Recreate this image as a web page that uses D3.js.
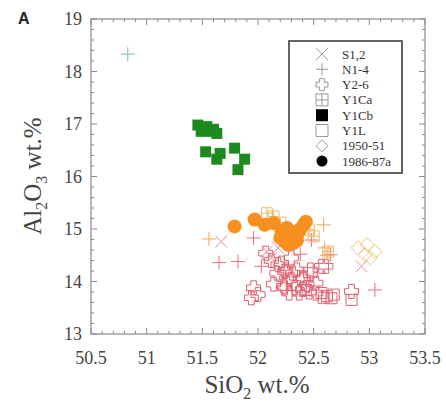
<!DOCTYPE html>
<html>
<head>
<meta charset="UTF-8">
<style>
  body { margin: 0; background: #fff; }
  svg text { font-family: "Liberation Serif", "Times New Roman", serif; }
</style>
</head>
<body>
<svg></svg>
<script src="https://cdn.jsdelivr.net/npm/d3@7"></script>
<script>
// SiO2 / Al2O3 pairs
let s12 = [[51.67, 14.76], [52.08, 14.57], [52.12, 14.45], [52.18, 14.64], [52.93, 14.29]];
let n14 = [[51.65, 14.36], [51.82, 14.38], [51.96, 14.83], [52.03, 14.29], [52.48, 14.79], [52.65, 14.51], [53.05, 13.84], [52.38, 14.52]];
let n14Orange = [[51.56, 14.81], [52.59, 15.08], [52.60, 14.64], [52.62, 14.50]];
let n14Teal = [[50.83, 18.33]];
let y26 = [[51.96, 13.88], [51.94, 13.69], [52.00, 13.75], [52.07, 14.54], [52.21, 14.35], [52.17, 14.16],
  [52.24, 14.19], [52.28, 14.03], [52.23, 13.91], [52.35, 14.22], [52.38, 14.07], [52.44, 13.94],
  [52.47, 14.22], [52.57, 14.29], [52.52, 13.78], [52.28, 13.78], [52.18, 14.32], [52.25, 14.22],
  [52.31, 14.16], [52.41, 14.07], [52.47, 14.13], [52.61, 14.29], [52.24, 13.88], [52.33, 13.88],
  [52.37, 13.78], [52.52, 13.97], [52.84, 13.81], [52.12, 14.40], [52.30, 14.45], [52.40, 13.85],
  [52.46, 13.80], [52.14, 13.95]];
let y1ca = [[52.08, 15.30], [52.14, 15.24], [52.20, 15.12], [52.46, 14.99], [52.50, 14.86], [52.63, 14.57]];
let y1cb = [[51.46, 16.98], [51.54, 16.95], [51.49, 16.86], [51.58, 16.86], [51.63, 16.82], [51.53, 16.47],
  [51.66, 16.44], [51.63, 16.33], [51.79, 16.54], [51.88, 16.33], [51.82, 16.13], [51.60, 16.90]];
let y1l = [[52.57, 13.78], [52.62, 13.72], [52.68, 13.75], [52.59, 13.69], [52.84, 13.65], [52.43, 13.84], [52.66, 13.68]];
let e1950 = [[52.90, 14.64], [52.98, 14.70], [53.05, 14.57], [52.96, 14.51], [53.01, 14.45]];
let e1986 = [[51.79, 15.05], [51.97, 15.18], [52.06, 15.08], [52.14, 15.11], [52.26, 15.02], [52.21, 14.95],
  [52.27, 14.86], [52.32, 14.73], [52.24, 14.76], [52.36, 14.92], [52.41, 15.08], [52.43, 15.14],
  [52.33, 14.83], [52.20, 14.83], [52.29, 14.95], [52.27, 14.70], [52.35, 14.78], [52.38, 15.00], [52.22, 14.88]];

let legendNames = ["S1,2", "N1-4", "Y2-6", "Y1Ca", "Y1Cb", "Y1L", "1950-51", "1986-87a"];
let legendSymbols = ["x", "plus", "fatplus", "sqplus", "square", "square", "diamond", "circle"];
let legendFilled = [false, false, false, false, true, false, false, true];

let width = 446, height = 402;
let svg = d3.select("svg").attr("width", width).attr("height", height);

let x = d3.scaleLinear().domain([50.5, 53.5]).range([91, 425]);
let y = d3.scaleLinear().domain([13, 19]).range([334, 19]);

// symbol shapes
function shape(kind, s) {
  if (kind == "x") return `M${-s},${-s}L${s},${s}M${-s},${s}L${s},${-s}`;
  if (kind == "plus") return `M${-s},0H${s}M0,${-s}V${s}`;
  if (kind == "square") return `M${-s},${-s}H${s}V${s}H${-s}Z`;
  if (kind == "sqplus") return `M${-s},${-s}H${s}V${s}H${-s}ZM${-s},0H${s}M0,${-s}V${s}`;
  if (kind == "diamond") return `M0,${-s}L${s},0L0,${s}L${-s},0Z`;
  if (kind == "fatplus") {
    let a = s * 0.4;
    return `M${-a},${-s}H${a}V${-a}H${s}V${a}H${a}V${s}H${-a}V${a}H${-s}V${-a}H${-a}Z`;
  }
  if (kind == "circle") return `M${s},0A${s},${s} 0 1,1 ${-s},0A${s},${s} 0 1,1 ${s},0Z`;
}

// frame and ticks
let frame = svg.append("g");
frame.append("rect").attr("x", 91).attr("y", 19).attr("width", 334).attr("height", 315)
  .attr("fill", "none").attr("stroke", "#8a8a8a").attr("stroke-width", 1.2);

let xMinor = d3.range(50.5, 53.51, 0.1);
let yMinor = d3.range(13, 19.01, 0.2);
xMinor.forEach((v, i) => {
  let len = i % 5 == 0 ? 6 : 3;
  frame.append("line").attr("x1", x(v)).attr("x2", x(v)).attr("y1", 334).attr("y2", 334 - len).attr("stroke", "#8a8a8a");
  frame.append("line").attr("x1", x(v)).attr("x2", x(v)).attr("y1", 19).attr("y2", 19 + len).attr("stroke", "#8a8a8a");
});
yMinor.forEach((v, i) => {
  let len = i % 5 == 0 ? 6 : 3;
  frame.append("line").attr("y1", y(v)).attr("y2", y(v)).attr("x1", 91).attr("x2", 91 + len).attr("stroke", "#8a8a8a");
  frame.append("line").attr("y1", y(v)).attr("y2", y(v)).attr("x1", 425).attr("x2", 425 - len).attr("stroke", "#8a8a8a");
});

svg.append("g").selectAll("text").data([50.5, 51, 51.5, 52, 52.5, 53, 53.5]).join("text")
  .attr("x", d => x(d)).attr("y", 364).attr("text-anchor", "middle")
  .attr("font-size", 18).attr("fill", "#444").text(d => d);
svg.append("g").selectAll("text").data([13, 14, 15, 16, 17, 18, 19]).join("text")
  .attr("x", 82).attr("y", d => y(d) + 6).attr("text-anchor", "end")
  .attr("font-size", 18).attr("fill", "#444").text(d => d);

// axis titles
let xt = svg.append("text").attr("x", 257).attr("y", 393).attr("text-anchor", "middle")
  .attr("font-size", 25).attr("fill", "#444");
xt.append("tspan").text("SiO");
xt.append("tspan").attr("font-size", 16).attr("dy", 6).text("2");
xt.append("tspan").attr("dy", -6).text(" wt.%");

let yt = svg.append("text").attr("transform", "translate(41,176) rotate(-90)").attr("text-anchor", "middle")
  .attr("font-size", 25).attr("fill", "#444");
yt.append("tspan").text("Al");
yt.append("tspan").attr("font-size", 16).attr("dy", 6).text("2");
yt.append("tspan").attr("dy", -6).text("O");
yt.append("tspan").attr("font-size", 16).attr("dy", 6).text("3");
yt.append("tspan").attr("dy", -6).text(" wt.%");

svg.append("text").attr("x", 18).attr("y", 24).style("font-family", "'Liberation Sans', Arial, sans-serif")
  .attr("font-weight", "bold").attr("font-size", 16).attr("fill", "#222").text("A");

// data groups, drawn back to front
let groups = [
  { data: y26, kind: "fatplus", size: 7, stroke: "#e0606e", fill: "none", sw: 1 },
  { data: y1l, kind: "square", size: 5.5, stroke: "#e0606e", fill: "none", sw: 1 },
  { data: s12, kind: "x", size: 6, stroke: "#e58c9c", fill: "none", sw: 1 },
  { data: n14, kind: "plus", size: 7, stroke: "#e5707f", fill: "none", sw: 1 },
  { data: n14Orange, kind: "plus", size: 7, stroke: "#f0a850", fill: "none", sw: 1 },
  { data: n14Teal, kind: "plus", size: 7, stroke: "#8ccdb6", fill: "none", sw: 1.2 },
  { data: e1950, kind: "diamond", size: 7, stroke: "#f2c27a", fill: "none", sw: 1 },
  { data: y1ca, kind: "sqplus", size: 5.5, stroke: "#f0b868", fill: "none", sw: 1 },
  { data: e1986, kind: "circle", size: 7, stroke: "none", fill: "#f7901e", sw: 0 },
  { data: y1cb, kind: "square", size: 5.5, stroke: "none", fill: "#1c8a1c", sw: 0 }
];

let marks = svg.append("g");
groups.forEach(g => {
  marks.append("g").selectAll("path").data(g.data).join("path")
    .attr("transform", d => `translate(${x(d[0])},${y(d[1])})`)
    .attr("d", shape(g.kind, g.size))
    .attr("fill", g.fill).attr("stroke", g.stroke).attr("stroke-width", g.sw);
});

// legend
let legend = svg.append("g");
legend.append("rect").attr("x", 289).attr("y", 41).attr("width", 113).attr("height", 132)
  .attr("fill", "#fff").attr("stroke", "#555").attr("stroke-width", 1.8);
let rows = legend.selectAll("g.row").data(legendNames).join("g")
  .attr("transform", (d, i) => `translate(322,${54 + i * 15.3})`);
rows.append("path")
  .attr("d", (d, i) => shape(legendSymbols[i], legendSymbols[i] == "circle" ? 5.5 : 6))
  .attr("fill", (d, i) => legendFilled[i] ? "#000" : "none")
  .attr("stroke", (d, i) => legendFilled[i] ? "none" : "#999");
rows.append("text").attr("x", 20).attr("y", 4.5).attr("font-size", 13).attr("fill", "#333").text(d => d);
</script>
</body>
</html>
